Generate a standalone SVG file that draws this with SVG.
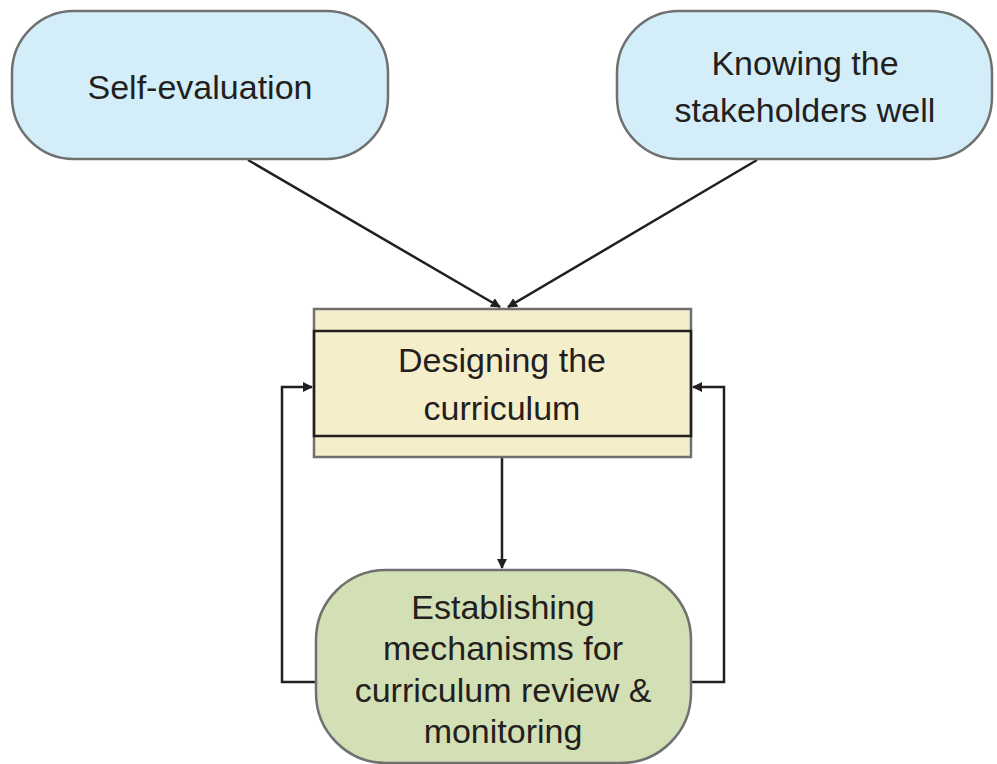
<svg xmlns="http://www.w3.org/2000/svg" width="997" height="764" viewBox="0 0 997 764">
<defs>
<style>
.t{font-family:"Liberation Sans",Arial,sans-serif;font-size:34px;fill:#231f20;text-anchor:middle}
.blue{fill:#d3eef9;stroke:#707070;stroke-width:2.5}
.c{fill:none;stroke:#231f20;stroke-width:2.5}
</style>
<marker id="ah" markerWidth="10" markerHeight="10" refX="9" refY="5" orient="auto" markerUnits="userSpaceOnUse" viewBox="0 0 10 10">
<path d="M0,0 L10,5 L0,10 Z" fill="#231f20"/>
</marker>
</defs>
<rect width="997" height="764" fill="#fff"/>
<g id="connectors">
<line class="c" x1="248" y1="160" x2="500" y2="307" marker-end="url(#ah)"/>
<line class="c" x1="757" y1="160" x2="508" y2="307" marker-end="url(#ah)"/>
<line class="c" x1="502" y1="458" x2="502" y2="568" marker-end="url(#ah)"/>
<polyline class="c" points="318,682 282,682 282,387 312,387" marker-end="url(#ah)"/>
<polyline class="c" points="690,682 724,682 724,387 693,387" marker-end="url(#ah)"/>
</g>
<g id="self-evaluation">
<rect class="blue" x="12" y="11" width="376" height="148" rx="62" ry="62"/>
<text class="t" x="200" y="99">Self-evaluation</text>
</g>
<g id="stakeholders">
<rect class="blue" x="617" y="11" width="375" height="148" rx="62" ry="62"/>
<text class="t" x="805" y="75">Knowing the</text>
<text class="t" x="805" y="122">stakeholders well</text>
</g>
<g id="designing">
<rect x="314" y="309" width="377" height="148" fill="#f5eecb" stroke="#707070" stroke-width="2.5"/>
<rect x="314" y="331" width="377" height="105" fill="none" stroke="#231f20" stroke-width="2.5"/>
<text class="t" x="502" y="372">Designing the</text>
<text class="t" x="502" y="420">curriculum</text>
</g>
<g id="establishing">
<rect x="316" y="570" width="375" height="193" rx="70" ry="70" fill="#d3dfb4" stroke="#707070" stroke-width="2.5"/>
<text class="t" x="503" y="619">Establishing</text>
<text class="t" x="503" y="660">mechanisms for</text>
<text class="t" x="503" y="702">curriculum review &amp;</text>
<text class="t" x="503" y="743">monitoring</text>
</g>
</svg>
